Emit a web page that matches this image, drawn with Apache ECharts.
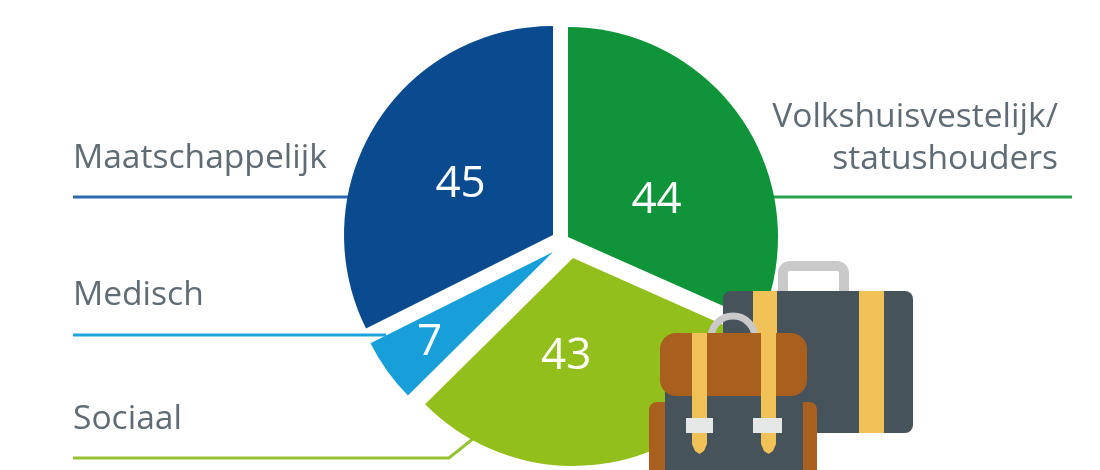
<!DOCTYPE html>
<html>
<head>
<meta charset="utf-8">
<style>
  html, body { margin: 0; padding: 0; background: #fff; }
  #chart { width: 1100px; height: 470px; }
</style>
<script src="https://cdn.jsdelivr.net/npm/echarts@6/dist/echarts.min.js"></script>
</head>
<body>
<div id="chart"></div>
<script>
const categories = ['Volkshuisvestelijk/\nstatushouders', 'Sociaal', 'Medisch', 'Maatschappelijk'];
const values = [44, 43, 7, 45];
const colors = ['#0f9439', '#93bf1c', '#189fda', '#0a4a8f'];
const lineColors = ['#2aa24d', '#97c231', '#1ea3de', '#2a69ae'];

// each slice is pulled apart by hand in the original, so every wedge gets its own apex
const apexes = [[568, 237], [573, 258], [553, 252], [553, 235]];
const radii = [210, 208, 204, 209];
const labelShift = [[-2, 22], [-26, -7], [-38, 29], [-1, 6]];

const TEXT_COLOR = '#5f6c74';
const DARK = '#47535a';
const YELLOW = '#f0c156';
const BROWN = '#a9601f';
const GREY = '#c9c9c9';
const BUCKLE = '#e6e8e8';

const chart = echarts.init(document.getElementById('chart'));

function box(x, y, width, height, fill, r, z) {
  return { type: 'rect', z: z || 20, shape: { x, y, width, height, r: r || 0 }, style: { fill } };
}

function caption(text, x, y, align) {
  return {
    type: 'text', z: 10, x, y,
    style: { text, fill: TEXT_COLOR, font: '33.6px "Open Sans"', align: align || 'left', verticalAlign: 'middle', lineHeight: 42 }
  };
}

function leader(points, color) {
  return {
    type: 'polyline', z: 1,
    shape: { points },
    style: { stroke: color, lineWidth: 3, fill: null }
  };
}

const strap = (x) => ({
  type: 'polygon', z: 21,
  shape: { points: [[x, 333], [x + 15, 333], [x + 15, 444], [x + 12, 451], [x + 7.5, 454], [x + 3, 451], [x, 444]] },
  style: { fill: YELLOW }
});

const graphic = [
  // captions + leader lines
  caption(categories[3], 73, 158),
  leader([[73, 197], [355, 197]], lineColors[3]),
  caption(categories[0], 1058, 138, 'right'),
  leader([[770, 197], [1072, 197]], lineColors[0]),
  caption(categories[2], 73, 295),
  leader([[73, 335], [386, 335]], lineColors[2]),
  caption(categories[1], 73, 419),
  leader([[73, 458], [449, 458], [474, 438]], lineColors[1]),

  // suitcase
  { type: 'rect', z: 19, shape: { x: 783, y: 266, width: 61, height: 40, r: 7 }, style: { fill: 'none', stroke: GREY, lineWidth: 10 } },
  box(723, 291, 190, 142, DARK, 8),
  box(753, 291, 24, 142, YELLOW),
  box(859, 291, 25, 142, YELLOW),

  // backpack
  { type: 'arc', z: 20, shape: { cx: 733, cy: 338, r: 22, startAngle: Math.PI, endAngle: 2 * Math.PI }, style: { stroke: GREY, lineWidth: 7, fill: 'none' } },
  box(649, 402, 168, 80, BROWN, 8),
  box(665, 380, 138, 100, DARK),
  box(660, 333, 147, 63, BROWN, 16),
  strap(692),
  strap(761),
  box(686, 418, 27, 15, BUCKLE, 0, 22),
  box(753, 418, 29, 15, BUCKLE, 0, 22)
];

const total = values.reduce((a, b) => a + b, 0);
let angle = 90;

const series = values.map((value, i) => {
  const sweep = (value / total) * 360;
  const startAngle = angle;
  angle -= sweep;
  return {
    type: 'pie',
    center: apexes[i],
    radius: [0, radii[i]],
    startAngle,
    endAngle: angle,
    clockwise: true,
    z: 5,
    silent: true,
    label: {
      position: 'inside',
      formatter: '{c}',
      color: '#fff',
      fontFamily: 'Open Sans',
      fontSize: 44
    },
    labelLine: { show: false },
    labelLayout: { dx: labelShift[i][0], dy: labelShift[i][1] },
    data: [{ name: categories[i], value, itemStyle: { color: colors[i] } }]
  };
});

chart.setOption({
  backgroundColor: '#fff',
  animation: false,
  graphic,
  series
});
</script>
</body>
</html>
